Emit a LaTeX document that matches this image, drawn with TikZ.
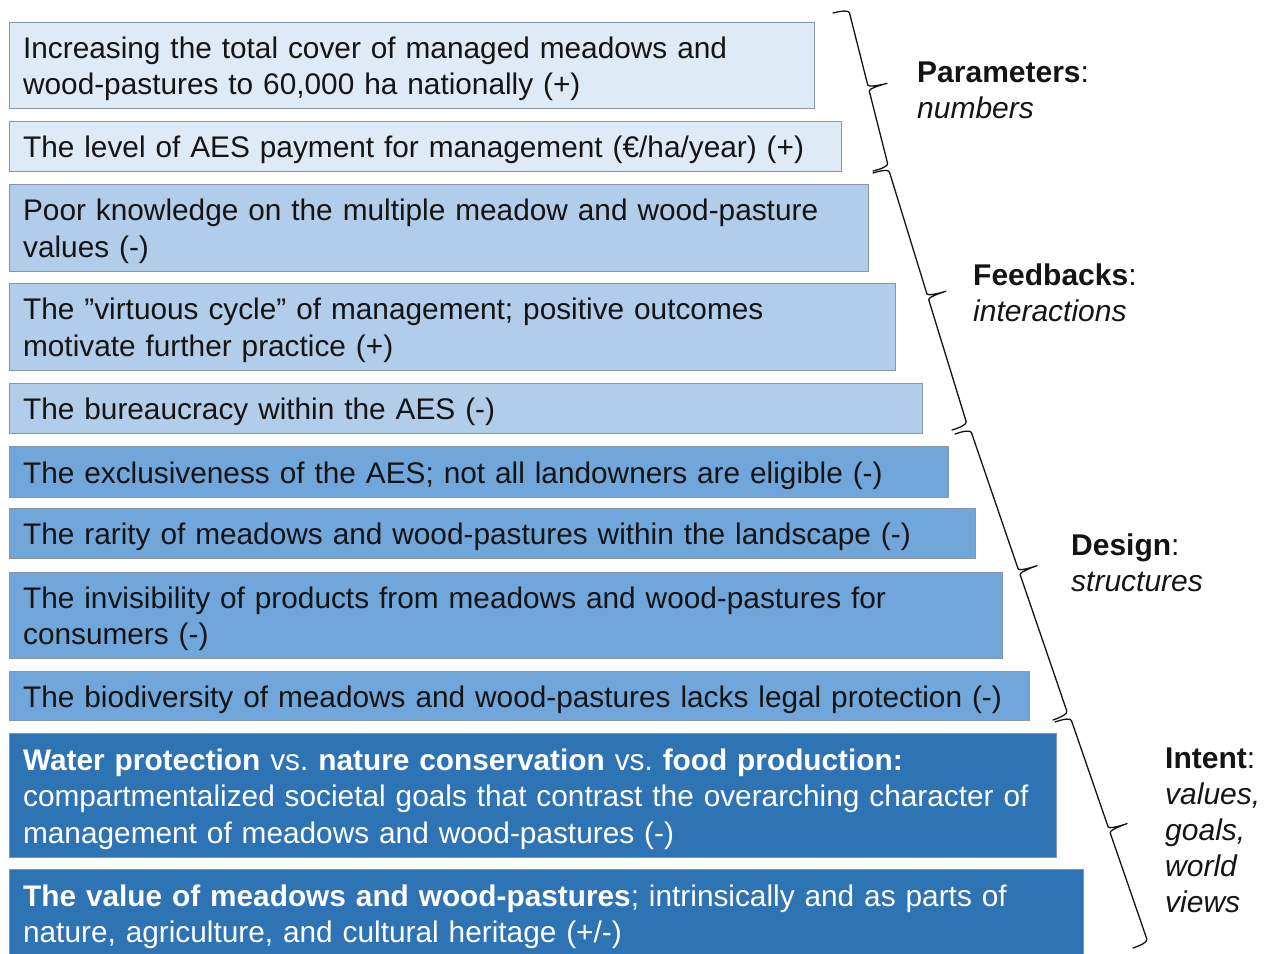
\documentclass[tikz,border=0pt]{standalone}
\usepackage{fontspec}
\setmainfont{Liberation Sans}
\definecolor{cA}{HTML}{DEEBF7}
\definecolor{cB}{HTML}{B1CDEA}
\definecolor{cC}{HTML}{71A6DB}
\definecolor{cD}{HTML}{2E74B5}
\definecolor{edge}{HTML}{8796A8}
\definecolor{ink}{HTML}{141414}
\newcommand{\mybrace}[4]{%
  \draw[bracestroke, shift={(#1)}, rotate=#3, x=1pt, y=1pt]
    (0,0) .. controls (0,9) and (1,16) .. (4,16)
    -- ({#4/2-3},16) .. controls ({#4/2-1},16) and ({#4/2},26) .. ({#4/2},35)
    .. controls ({#4/2},26) and ({#4/2+1},16) .. ({#4/2+3},16)
    -- ({#4-4},16) .. controls ({#4-1},16) and (#4,9) .. (#4,0);}
\begin{document}
\frenchspacing
\begin{tikzpicture}[x=1pt,y=-1pt,
  boxbase/.style={draw=edge, line width=1.2pt, anchor=north west, inner xsep=13.5pt,
    inner ysep=0pt, align=left, font=\fontsize{29.8}{36.5}\selectfont, text=ink,
    execute at begin node={\rule{0pt}{28pt}}},
  lightbox/.style={boxbase, fill=cA},
  midbox/.style={boxbase, fill=cB},
  bluebox/.style={boxbase, fill=cC},
  darkbox/.style={boxbase, fill=cD, text=white},
  lbl/.style={anchor=base west, inner sep=0pt, font=\fontsize{30}{36}\selectfont, text=ink},
  bracestroke/.style={line width=1.3pt, draw=ink, line join=round, line cap=round}
]
\useasboundingbox (0,0) rectangle (1271,953);
\clip (0,0) rectangle (1271,953);

\node[lightbox, text width=778pt, minimum height=86pt] (b1) at (9,22)
  {Increasing the total cover of managed meadows and\\wood-pastures to 60,000 ha nationally (+)};
\node[lightbox, text width=805pt, minimum height=50pt] (b2) at (9,121)
  {The level of AES payment for management (€/ha/year) (+)};
\node[midbox, text width=832pt, minimum height=87pt] (b3) at (9,184)
  {Poor knowledge on the multiple meadow and wood-pasture\\values (-)};
\node[midbox, text width=859pt, minimum height=87pt] (b4) at (9,283)
  {The ”virtuous cycle” of management; positive outcomes\\motivate further practice (+)};
\node[midbox, text width=886pt, minimum height=50pt] (b5) at (9,383)
  {The bureaucracy within the AES (-)};
\node[bluebox, text width=912pt, minimum height=51pt] (b6) at (9,446)
  {The exclusiveness of the AES; not all landowners are eligible (-)};
\node[bluebox, text width=939pt, minimum height=50pt] (b7) at (9,508)
  {The rarity of meadows and wood-pastures within the landscape (-)};
\node[bluebox, text width=966pt, minimum height=86pt] (b8) at (9,572)
  {The invisibility of products from meadows and wood-pastures for\\consumers (-)};
\node[bluebox, text width=993pt, minimum height=49pt] (b9) at (9,671)
  {The biodiversity of meadows and wood-pastures lacks legal protection (-)};
\node[darkbox, text width=1020pt, minimum height=124pt] (b10) at (9,733)
  {\textbf{Water protection} vs. \textbf{nature conservation} vs. \textbf{food production:}\\compartmentalized societal goals that contrast the overarching character of\\management of meadows and wood-pastures (-)};
\node[darkbox, text width=1047pt, minimum height=88pt] (b11) at (9,869)
  {\textbf{The value of meadows and wood-pastures}; intrinsically and as parts of\\nature, agriculture, and cultural heritage (+/-)};

\coordinate (p1) at (833,13);
\coordinate (p2) at (873,171);
\coordinate (f1) at (873,173);
\coordinate (f2) at (952,430);
\coordinate (d1) at (955,434);
\coordinate (d2) at (1053,720);
\coordinate (i1) at (1055,722);
\coordinate (i2) at (1133,948);
\mybrace{p1}{p2}{-75.79}{163.0}
\mybrace{f1}{f2}{-72.91}{268.9}
\mybrace{d1}{d2}{-71.09}{302.3}
\mybrace{i1}{i2}{-70.96}{239.1}

\node[lbl] (lp1) at (917,82) {\textbf{Parameters}:};
\node[lbl] (lp2) at (917,118) {\textit{numbers}};
\node[lbl] (lf1) at (973,285) {\textbf{Feedbacks}:};
\node[lbl] (lf2) at (973,321) {\textit{interactions}};
\node[lbl] (ld1) at (1071,555) {\textbf{Design}:};
\node[lbl] (ld2) at (1071,591) {\textit{structures}};
\node[lbl] (li1) at (1165,768) {\textbf{Intent}:};
\node[lbl] (li2) at (1165,804) {\textit{values,}};
\node[lbl] (li3) at (1165,840) {\textit{goals,}};
\node[lbl] (li4) at (1165,876) {\textit{world}};
\node[lbl] (li5) at (1165,912) {\textit{views}};
\end{tikzpicture}
\end{document}
